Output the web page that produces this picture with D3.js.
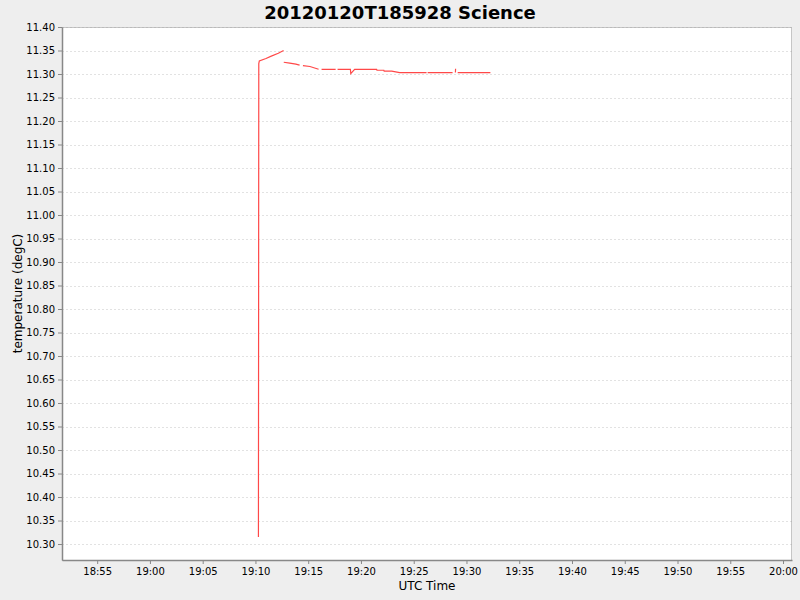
<!DOCTYPE html>
<html>
<head>
<meta charset="utf-8" />
<title>20120120T185928 Science</title>
<script src="https://d3js.org/d3.v7.min.js"></script>
<style>
  body { margin: 0; background: #eeeeee; }
  svg { display: block; font-family: "DejaVu Sans", sans-serif; }
</style>
</head>
<body>
<svg width="800" height="600"></svg>
<script>
    // Data (UTC time, temperature degC); null marks a gap in the record
    var times = [
        "19:10:17", "19:10:19", "19:10:22", "19:11:00", "19:11:30", "19:12:10", "19:12:40", null,
        "19:12:41", "19:13:15", "19:13:50", "19:14:11", null,
        "19:14:30", "19:15:10", "19:15:59", null,
        "19:16:16", "19:17:36", null,
        "19:17:47", "19:19:00", "19:19:02", "19:19:24", "19:21:29", "19:21:31", "19:22:10",
        "19:22:12", "19:22:55", "19:23:40", "19:26:13", null,
        "19:26:19", "19:28:41", null,
        "19:28:57", "19:28:58", null,
        "19:29:10", "19:32:16"
    ];
    var values = [
        10.315, 11.322, 11.328, 11.333, 11.338, 11.344, 11.350, null,
        11.325, 11.323, 11.321, 11.319, null,
        11.318, 11.316, 11.310, null,
        11.310, 11.310, null,
        11.310, 11.310, 11.301, 11.310, 11.310, 11.308, 11.308,
        11.306, 11.306, 11.303, 11.303, null,
        11.303, 11.303, null,
        11.303, 11.311, null,
        11.303, 11.303
    ];
    var yTicks = d3.range(0, 23).map(function (i) { return +(10.30 + i * 0.05).toFixed(2); });
    var xTickLabels = ["18:55", "19:00", "19:05", "19:10", "19:15", "19:20", "19:25", "19:30",
        "19:35", "19:40", "19:45", "19:50", "19:55", "20:00"];

    var parse = d3.utcParse("%Y-%m-%d %H:%M:%S");
    var day = "2012-01-20 ";
    var points = times.map(function (t, i) {
        return t === null ? null : { t: parse(day + t), v: values[i] };
    });

    var svg = d3.select("svg");
    var margin = { top: 27, right: 8, bottom: 40, left: 62 },
        width = +svg.attr("width") - margin.left - margin.right,
        height = +svg.attr("height") - margin.top - margin.bottom;

    var x = d3.scaleUtc()
        .domain([parse(day + "18:51:40"), parse(day + "20:00:51")])
        .range([0, width]);
    var y = d3.scaleLinear().domain([10.266, 11.40]).range([height, 0]);

    var g = svg.append("g").attr("transform", "translate(" + margin.left + "," + margin.top + ")");

    // plot background
    g.append("rect").attr("width", width).attr("height", height).attr("fill", "#ffffff");

    // horizontal grid
    g.selectAll(".grid")
        .data(yTicks)
        .enter()
        .append("line")
        .attr("x1", 0).attr("x2", width)
        .attr("y1", function (d) { return Math.round(y(d)) + 0.5; })
        .attr("y2", function (d) { return Math.round(y(d)) + 0.5; })
        .attr("stroke", "#e2e2e2")
        .attr("stroke-dasharray", "2,2");

    // data line
    var line = d3.line()
        .defined(function (d) { return d !== null; })
        .x(function (d) { return x(d.t); })
        .y(function (d) { return y(d.v); });

    g.append("path")
        .datum(points)
        .attr("fill", "none")
        .attr("stroke", "#ff4848")
        .attr("stroke-width", 1.2)
        .attr("d", line);

    // outline
    g.append("rect")
        .attr("x", 0.5).attr("y", 0.5)
        .attr("width", width - 1).attr("height", height)
        .attr("fill", "none")
        .attr("stroke", "#a0a0a0")
        .attr("stroke-width", 0.6);

    // x axis
    var xTickVals = xTickLabels.map(function (s) { return parse(day + s + ":00"); });
    var xAxis = g.append("g")
        .attr("transform", "translate(0," + height + ")")
        .call(d3.axisBottom(x).tickValues(xTickVals).tickSize(4).tickSizeOuter(0)
            .tickFormat(d3.utcFormat("%H:%M")));

    // y axis
    var yAxis = g.append("g")
        .call(d3.axisLeft(y).tickValues(yTicks).tickSize(4).tickSizeOuter(0)
            .tickFormat(d3.format(".2f")));

    [xAxis, yAxis].forEach(function (a) {
        a.select(".domain").attr("stroke", "#888888").attr("stroke-width", 1.5);
        a.selectAll(".tick line").attr("stroke", "#888888");
        a.selectAll(".tick text").attr("fill", "#000000")
            .style("font-size", "10px").style("font-family", "DejaVu Sans");
    });
    xAxis.selectAll(".tick text").attr("y", 8);

    // title and axis labels
    svg.append("text")
        .attr("x", 400).attr("y", 19)
        .attr("text-anchor", "middle")
        .style("font-size", "18px")
        .style("font-weight", "bold")
        .text("20120120T185928 Science");

    svg.append("text")
        .attr("x", margin.left + width / 2).attr("y", 590)
        .attr("text-anchor", "middle")
        .style("font-size", "12px")
        .text("UTC Time");

    svg.append("text")
        .attr("transform", "translate(22," + (margin.top + height / 2) + ") rotate(-90)")
        .attr("text-anchor", "middle")
        .style("font-size", "12px")
        .text("temperature (degC)");
</script>
</body>
</html>
